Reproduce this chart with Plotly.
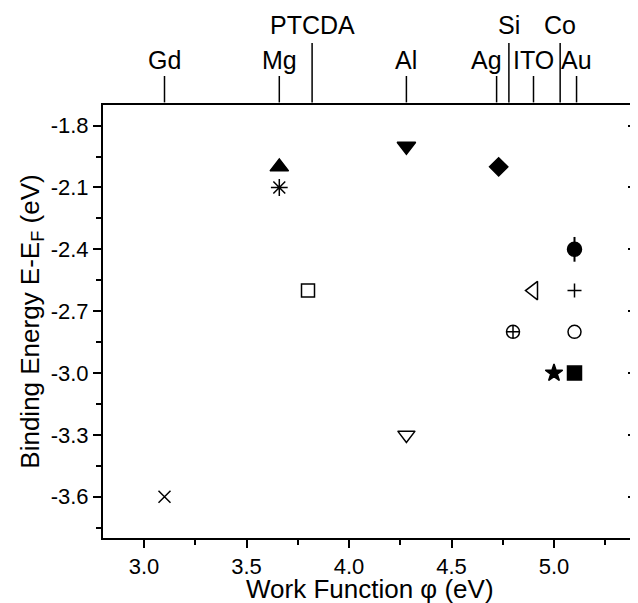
import plotly.graph_objects as go

# ---- data ----
work_function = [3.10, 3.66, 3.66, 3.80, 4.28, 4.28, 4.73, 4.80, 4.90, 5.00, 5.10, 5.10, 5.10, 5.10]
binding_energy = [-3.60, -2.00, -2.10, -2.60, -1.90, -3.30, -2.00, -2.80, -2.60, -3.00, -2.40, -2.60, -2.80, -3.00]
energy_error = [0, 0, 0, 0, 0, 0, 0, 0, 0, 0, 0.06, 0, 0, 0]

metals = ["Gd", "Mg", "PTCDA", "Al", "Ag", "Si", "ITO", "Co", "Au"]
metal_wf = [3.10, 3.66, 3.82, 4.28, 4.72, 4.78, 4.90, 5.03, 5.11]

x_tickvals = [3.0, 3.5, 4.0, 4.5, 5.0]
x_ticktext = ["3.0", "3.5", "4.0", "4.5", "5.0"]
y_tickvals = [-1.8, -2.1, -2.4, -2.7, -3.0, -3.3, -3.6]
y_ticktext = ["-1.8", "-2.1", "-2.4", "-2.7", "-3.0", "-3.3", "-3.6"]

x_title = "Work Function φ (eV)"
y_title = "Binding Energy E-E<sub>F</sub> (eV)"

# ---- styles ----
symbols = ["x-thin-open", "triangle-up", "asterisk-open", "square-open", "triangle-down",
           "triangle-down-open", "diamond", "circle-cross-open", "triangle-left-open", "star",
           "circle", "cross-thin-open", "circle-open", "square"]
sizes = [12, 16, 14, 13, 16, 15, 14, 13, 16, 13, 14, 10, 13, 14]
tall_label = [False, False, True, False, False, True, False, True, False]
label_shift = [0, 0, 0, 0, -10, 0, 0, 0, 0]

FONT = "Liberation Sans, Arial, Helvetica, sans-serif"

fig = go.Figure()
for i in range(len(work_function)):
    tr = dict(
        x=[work_function[i]], y=[binding_energy[i]], mode="markers",
        marker=dict(symbol=symbols[i], size=sizes[i], color="black",
                    line=dict(color="black", width=1.5)),
        showlegend=False, hoverinfo="x+y",
    )
    if energy_error[i] > 0:
        tr["error_y"] = dict(type="data", array=[energy_error[i]], width=0,
                             thickness=2, color="black")
    fig.add_trace(go.Scatter(**tr))

# invisible trace to hold the right-hand axis
fig.add_trace(go.Scatter(x=[None], y=[None], yaxis="y2", showlegend=False, hoverinfo="skip"))

shapes = []
annotations = []
for name, wf, tall, dx in zip(metals, metal_wf, tall_label, label_shift):
    top = 1.143 if tall else 1.067
    shapes.append(dict(type="line", xref="x", yref="paper", x0=wf, x1=wf,
                       y0=1.006, y1=top, line=dict(color="black", width=1.5)))
    annotations.append(dict(text=name, x=wf, xref="x", y=(1.185 if tall else 1.104),
                            yref="paper", showarrow=False, xshift=dx,
                            font=dict(size=25, color="black", family=FONT),
                            xanchor="center", yanchor="middle"))

# x-axis title
annotations.append(dict(text=x_title, x=0.5, xref="paper", y=0, yref="paper",
                        yshift=-51, showarrow=False, xanchor="center", yanchor="middle",
                        font=dict(size=26, color="black", family=FONT)))

yaxis_common = dict(range=[-3.8, -1.7], tickmode="array", tickvals=y_tickvals,
                    showline=True, linewidth=2, linecolor="black", showgrid=False,
                    zeroline=False, ticklen=8, tickwidth=2, tickcolor="black")

# page body has an 8px default margin, so the figure is sized to fit the window
fig.update_layout(
    width=630, height=595,
    margin=dict(l=95, r=2, t=97, b=65),
    paper_bgcolor="white", plot_bgcolor="white",
    font=dict(family=FONT, color="black"),
    xaxis=dict(range=[2.8, 5.4], tickmode="array", tickvals=x_tickvals, ticktext=x_ticktext,
               ticks="outside", ticklen=8, tickwidth=2, tickcolor="black",
               minor=dict(tickmode="linear", tick0=2.75, dtick=0.25, ticks="outside",
                          ticklen=5, tickwidth=2, tickcolor="black"),
               showline=True, linewidth=2, linecolor="black", mirror=True,
               showgrid=False, zeroline=False, automargin=False,
               tickfont=dict(size=22, family=FONT)),
    yaxis=dict(**yaxis_common, ticktext=y_ticktext, ticks="outside",
               minor=dict(tickmode="linear", tick0=-1.8, dtick=0.15, ticks="outside",
                          ticklen=5, tickwidth=2, tickcolor="black"),
               automargin=False, tickfont=dict(size=22, family=FONT),
               title=dict(text=y_title, font=dict(size=26, family=FONT), standoff=4)),
    yaxis2=dict(**yaxis_common, overlaying="y", side="right", anchor="x",
                ticks="inside", showticklabels=False,
                minor=dict(tickmode="linear", tick0=-1.8, dtick=0.15, ticks="inside",
                           ticklen=5, tickwidth=2, tickcolor="black")),
    shapes=shapes, annotations=annotations,
)

fig.write_html("out.html")
